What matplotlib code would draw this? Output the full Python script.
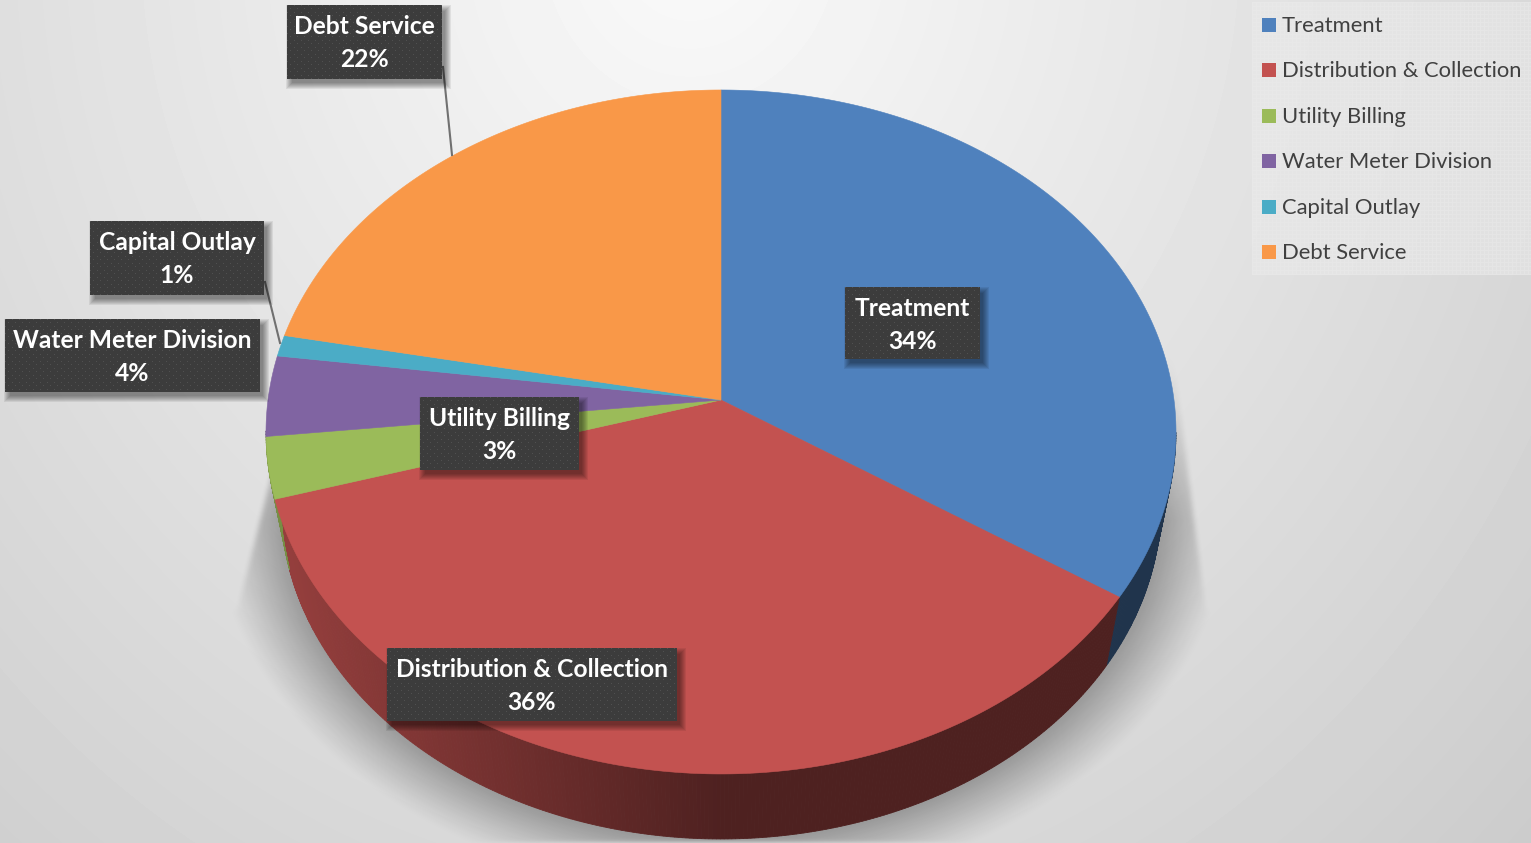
import numpy as np
import matplotlib
matplotlib.use("Agg")
import matplotlib.pyplot as plt
from matplotlib.patches import Polygon, Rectangle

# Data
categories = ["Treatment", "Distribution & Collection", "Utility Billing",
              "Water Meter Division", "Capital Outlay", "Debt Service"]
values = [34.3, 36.1, 2.9, 3.8, 1.0, 21.9]
shown_pct = ["34%", "36%", "3%", "4%", "1%", "22%"]
colors = ["#4f81bd", "#c35250", "#9bbb59", "#8064a2", "#4bacc6", "#f99848"]

# label boxes in pixels: left, top, right, bottom
label_boxes = [(845, 287, 980, 359), (387, 648, 677, 721), (420, 397, 579, 470),
               (5, 319, 260, 392), (90, 221, 264, 295), (287, 5, 442, 79)]
legend_y = [25, 70, 116, 161, 207, 252]

W, H = 1531, 843
plt.rcParams["font.family"] = ["Lato", "DejaVu Sans"]

fig = plt.figure(figsize=(W / 100, H / 100), dpi=100)
ax = fig.add_axes([0, 0, 1, 1])
ax.axis("off")

yy, xx = np.mgrid[0:H, 0:W]


def blur(a, n):
    # box blur, three passes
    k = np.ones(n) / n
    for _ in range(3):
        a = np.apply_along_axis(lambda r: np.convolve(r, k, mode="same"), 0, a)
        a = np.apply_along_axis(lambda r: np.convolve(r, k, mode="same"), 1, a)
    return a


# Background: light spot at the top, grey towards the corners
r_bg = np.sqrt(((xx - 690) / 900.0) ** 2 + ((yy + 60) / 1000.0) ** 2)
bg = 0.98 - 0.14 * r_bg
ax.imshow(bg, cmap="gray", vmin=0, vmax=1, extent=(0, W, H, 0), aspect="auto", zorder=0)

# Pie geometry: circle seen in perspective
apex_x, apex_y = 721, 400
a, b, k = 453.0, 339.0, 0.0935
# lower rim is a bit smaller than the top one
low_cy, top_cy, low_sx, low_sy = 504, 432, 440 / 455.0, 335 / 342.0


def project(theta):
    u, v = np.sin(theta), -np.cos(theta)
    return apex_x + a * u / (1 - k * v), apex_y + b * v / (1 - k * v)


def lower(px, py):
    return apex_x + (px - apex_x) * low_sx, low_cy + (py - top_cy) * low_sy


# Floor shadow
rs = np.sqrt(((xx - 721) / 440.0) ** 2 + ((yy - 504) / 335.0) ** 2)
sh = np.clip(1 - (rs - 1) / 0.16, 0, 1) ** 1.1
right_edge = np.where(yy < 610, 1172 + (yy - 350) * 33 / 260.0, 1300)
left_edge = np.where(yy < 610, 272 - (yy - 470) * 35 / 140.0, 150)
sh = sh * (xx < right_edge) * (xx > left_edge) * (yy > 350)
sh = blur(sh, 5) * np.clip((yy - 350) / 170.0, 0, 1)
rgba = np.zeros((H, W, 4))
rgba[..., 3] = 0.3 * sh
ax.imshow(rgba, extent=(0, W, H, 0), aspect="auto", zorder=1)

edges = np.cumsum([0] + values) / sum(values) * 2 * np.pi

# Side wall, drawn as thin strips so the shade can change along the rim
for i, col in enumerate(colors):
    th = np.linspace(edges[i], edges[i + 1], max(int(values[i] * 8), 3))
    px, py = project(th)
    qx, qy = lower(px, py)
    base = np.array(matplotlib.colors.to_rgb(col))
    for j in range(len(th) - 1):
        if py[j] + py[j + 1] < 2 * 432:
            continue
        f = 0.76 - 0.36 * np.clip((px[j] - 285) / 440.0, 0, 1)
        ax.add_patch(Polygon([(px[j], py[j]), (px[j + 1], py[j + 1]),
                              (qx[j + 1], qy[j + 1]), (qx[j], qy[j])],
                             fc=base * f, ec=base * f, lw=0.6, zorder=2))

# Top face
for i, col in enumerate(colors):
    th = np.linspace(edges[i], edges[i + 1], 200)
    px, py = project(th)
    pts = np.column_stack([np.r_[apex_x, px], np.r_[apex_y, py]])
    ax.add_patch(Polygon(pts, fc=col, ec=col, lw=0.4, zorder=3))

# Leader lines
ax.plot([443, 452], [67, 155], color="#707070", lw=1.5, zorder=4)
ax.plot([265, 280], [282, 343], color="#707070", lw=1.5, zorder=4)

# Labels
for name, pct, (x0, y0, x1, y1) in zip(categories, shown_pct, label_boxes):
    for g in range(7):
        ax.add_patch(Rectangle((x0 + 5 - g, y0 + 6 - g), x1 - x0 + 2 * g - 2, y1 - y0 + 2 * g - 2,
                               fc="black", ec="none", alpha=0.07, zorder=5))
    w, h = x1 - x0, y1 - y0
    dy, dx = np.mgrid[0:h, 0:w]
    cell = np.full((h, w, 3), 0x3c / 255.0)
    cell[((dy % 7 == 3) & (dx % 7 == 3)) | ((dy % 7 == 0) & (dx % 7 == 0))] = 0x50 / 255.0
    ax.imshow(cell, extent=(x0, x1, y1, y0), aspect="auto", zorder=6, interpolation="bilinear")
    ax.text((x0 + x1) / 2, y0 + 21.5, name, color="white", fontsize=17.7, fontweight="bold",
            ha="center", va="center", zorder=7)
    ax.text((x0 + x1) / 2, y0 + 54.5, pct, color="white", fontsize=17.7, fontweight="bold",
            ha="center", va="center", zorder=7)

# Legend panel with its fine grid
pw, ph = W - 1252, 273
gy, gx = np.mgrid[0:ph, 0:pw]
panel = np.zeros((ph, pw, 4))
panel[..., :3] = 0.925
panel[..., 3] = 0.5 + 0.2 * ((gx % 4 == 0) | (gy % 4 == 0))
ax.imshow(panel, extent=(1252, W, 275, 2), aspect="auto", zorder=1.5)

for name, col, y in zip(categories, colors, legend_y):
    ax.add_patch(Rectangle((1262, y - 7), 14, 14, fc=col, ec="none", zorder=4))
    ax.text(1282, y + 1, name, color="#404040", fontsize=15.8, ha="left", va="center", zorder=4)

ax.set_xlim(0, W)
ax.set_ylim(H, 0)
fig.savefig("out.png", dpi=100)
